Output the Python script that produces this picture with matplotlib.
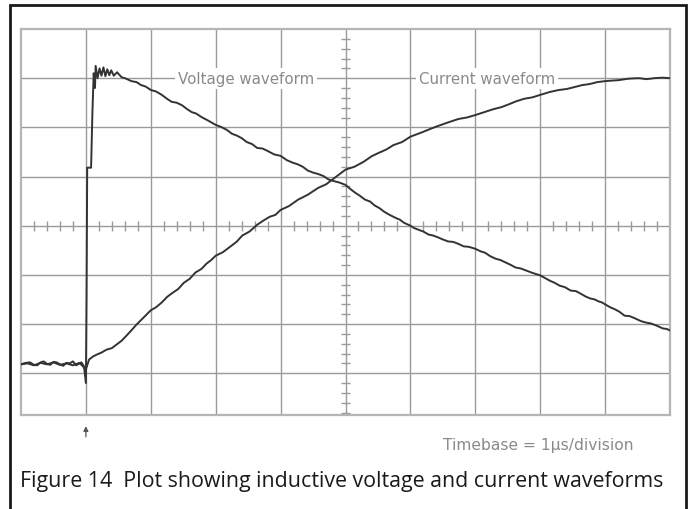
import numpy as np
import matplotlib
matplotlib.use("Agg")
import matplotlib.pyplot as plt
from matplotlib.patches import Rectangle

# 時間軸: 1 division = 1 us, トリガは t = 1
volt_t = [0.0, 0.07, 0.14, 0.2, 0.25, 0.3, 0.35, 0.4, 0.45, 0.5, 0.55, 0.6, 0.65, 0.7,
          0.75, 0.8, 0.85, 0.9, 0.93, 0.97, 1.0, 1.01, 1.02, 1.08, 1.10, 1.12, 1.14,
          1.15, 1.18, 1.21, 1.24, 1.27, 1.30, 1.33, 1.36, 1.39, 1.43, 1.48, 1.55,
          1.62, 1.70, 1.78, 1.85, 1.92, 2.0, 2.08, 2.17, 2.25, 2.32, 2.40, 2.48,
          2.56, 2.63, 2.70, 2.78, 2.88, 3.0, 3.08, 3.17, 3.25, 3.33, 3.40, 3.48,
          3.56, 3.64, 3.72, 3.80, 3.90, 4.0, 4.10, 4.19, 4.26, 4.34, 4.42, 4.50,
          4.58, 4.66, 4.74, 4.81, 4.90, 5.0, 5.08, 5.15, 5.22, 5.3, 5.38, 5.45,
          5.52, 5.6, 5.68, 5.77, 5.84, 5.9, 5.95, 6.0, 6.06, 6.12, 6.2, 6.28, 6.35,
          6.43, 6.5, 6.58, 6.66, 6.74, 6.82, 6.9, 6.95, 7.0, 7.08, 7.15, 7.23,
          7.31, 7.39, 7.47, 7.55, 7.62, 7.70, 7.78, 7.88, 8.0, 8.08, 8.15, 8.22,
          8.3, 8.38, 8.47, 8.55, 8.62, 8.70, 8.77, 8.84, 8.9, 8.95, 9.0, 9.08,
          9.15, 9.22, 9.3, 9.38, 9.47, 9.55, 9.63, 9.71, 9.79, 9.84, 9.89, 9.95, 10.0]
volt_v = [-2.82, -2.79, -2.78, -2.83, -2.84, -2.78, -2.76, -2.81, -2.83, -2.77,
          -2.78, -2.82, -2.85, -2.79, -2.80, -2.76, -2.84, -2.80, -2.78, -2.86,
          -3.20, -1.46, 1.18, 1.18, 2.29, 3.10, 2.80, 3.25, 3.00, 3.20, 3.05, 3.22,
          3.04, 3.18, 3.06, 3.16, 3.05, 3.12, 3.02, 2.99, 2.94, 2.92, 2.86, 2.83,
          2.76, 2.73, 2.66, 2.58, 2.52, 2.50, 2.45, 2.37, 2.31, 2.28, 2.21, 2.14,
          2.05, 2.01, 1.95, 1.87, 1.83, 1.78, 1.70, 1.66, 1.58, 1.57, 1.52, 1.45,
          1.42, 1.33, 1.28, 1.25, 1.20, 1.12, 1.08, 1.05, 1.01, 0.94, 0.91, 0.88,
          0.83, 0.74, 0.67, 0.61, 0.53, 0.49, 0.41, 0.36, 0.28, 0.22, 0.16, 0.12,
          0.06, 0.03, 0.00, -0.05, -0.08, -0.12, -0.18, -0.20, -0.24, -0.28, -0.32,
          -0.33, -0.37, -0.42, -0.43, -0.45, -0.47, -0.52, -0.55, -0.62, -0.67,
          -0.70, -0.75, -0.80, -0.85, -0.87, -0.91, -0.96, -1.01, -1.07, -1.12,
          -1.16, -1.22, -1.25, -1.32, -1.33, -1.38, -1.44, -1.48, -1.50, -1.54,
          -1.56, -1.60, -1.66, -1.70, -1.75, -1.83, -1.84, -1.89, -1.94, -1.97,
          -1.99, -2.03, -2.06, -2.09, -2.10, -2.13]

curr_t = [0.0, 0.1, 0.2, 0.3, 0.4, 0.5, 0.6, 0.7, 0.8, 0.9, 1.0, 1.05, 1.11, 1.17,
          1.24, 1.32, 1.40, 1.48, 1.55, 1.63, 1.70, 1.78, 1.88, 2.0, 2.08, 2.17,
          2.25, 2.32, 2.42, 2.51, 2.60, 2.69, 2.78, 2.86, 2.93, 3.0, 3.11, 3.22,
          3.32, 3.41, 3.52, 3.64, 3.73, 3.83, 3.92, 4.0, 4.13, 4.27, 4.42, 4.58,
          4.70, 4.81, 4.90, 5.0, 5.14, 5.28, 5.40, 5.51, 5.63, 5.74, 5.87, 6.0,
          6.1, 6.2, 6.31, 6.43, 6.58, 6.74, 6.87, 7.0, 7.14, 7.28, 7.40, 7.52,
          7.63, 7.75, 7.88, 8.0, 8.15, 8.29, 8.41, 8.53, 8.65, 8.76, 8.88, 9.0,
          9.1, 9.21, 9.36, 9.52, 9.64, 9.76, 9.88, 10.0]
curr_v = [-2.82, -2.80, -2.84, -2.79, -2.82, -2.78, -2.83, -2.80, -2.84, -2.79,
          -2.92, -2.72, -2.66, -2.62, -2.58, -2.52, -2.49, -2.41, -2.34, -2.23,
          -2.13, -2.01, -1.88, -1.72, -1.66, -1.56, -1.45, -1.38, -1.29, -1.16,
          -1.08, -0.95, -0.88, -0.77, -0.70, -0.61, -0.54, -0.43, -0.33, -0.20,
          -0.12, 0.02, 0.10, 0.18, 0.22, 0.32, 0.40, 0.53, 0.63, 0.77, 0.84, 0.95,
          1.04, 1.14, 1.20, 1.30, 1.41, 1.48, 1.55, 1.64, 1.70, 1.81, 1.86, 1.91,
          1.97, 2.03, 2.10, 2.17, 2.20, 2.25, 2.31, 2.37, 2.41, 2.47, 2.53, 2.58,
          2.61, 2.66, 2.72, 2.76, 2.78, 2.82, 2.86, 2.88, 2.92, 2.94, 2.95, 2.96,
          2.99, 3.00, 2.98, 3.00, 3.01, 3.00]

GRID_C = "#9a9a9a"
TRACE_C = "#333333"
LABEL_C = "#8a8a8a"

fig = plt.figure(figsize=(6.99, 5.10), dpi=100)

# 外枠
fig.patches.append(Rectangle((10 / 699, -0.05), 676 / 699, 1.05 - 6 / 510,
                             transform=fig.transFigure, fill=False,
                             edgecolor="#1a1a1a", linewidth=2.0))

ax = fig.add_axes([21 / 699, 1 - 416 / 510, 649 / 699, 386 / 510])
ax.set_xlim(0, 10)
ax.set_ylim(-3.85, 4)

# グリッド
for x in range(1, 10):
    ax.axvline(x, color=GRID_C, lw=1.0, zorder=1)
for y in range(-3, 4):
    ax.axhline(y, color=GRID_C, lw=1.0, zorder=1)

# 中央軸の目盛り
minor_x = [v for v in np.arange(0.2, 10, 0.2) if abs(v - round(v)) > 1e-6]
ax.vlines(minor_x, -0.1, 0.1, color=GRID_C, lw=1.0, zorder=1)
minor_y = [v for v in np.arange(-3.8, 4, 0.2) if abs(v - round(v)) > 1e-6]
ax.hlines(minor_y, 4.93, 5.07, color=GRID_C, lw=1.0, zorder=1)

for s in ax.spines.values():
    s.set_color("#b5b5b5")
    s.set_linewidth(1.6)
ax.set_xticks([])
ax.set_yticks([])

ax.plot(volt_t, volt_v, color=TRACE_C, lw=1.4, zorder=3)
ax.plot(curr_t, curr_v, color=TRACE_C, lw=1.4, zorder=3)

bbox = dict(facecolor="white", edgecolor="none", pad=2.0)
ax.text(3.47, 3.0, "Voltage waveform", color=LABEL_C, fontsize=10.8,
        ha="center", va="center", bbox=bbox, zorder=2)
ax.text(7.18, 3.0, "Current waveform", color=LABEL_C, fontsize=10.8,
        ha="center", va="center", bbox=bbox, zorder=2)

fig.text(538 / 699, 1 - 446 / 510, "Timebase = 1\u00b5s/division", color=LABEL_C,
         fontsize=11.2, ha="center", va="center")
# トリガ矢印
ax.annotate("", xy=(1.0, -4.02), xytext=(1.0, -4.35), xycoords="data",
            annotation_clip=False,
            arrowprops=dict(arrowstyle="-|>", color="#555555", lw=0.9,
                            mutation_scale=7))

fig.text(20 / 699, 1 - 482 / 510,
         "Figure 14  Plot showing inductive voltage and current waveforms",
         fontsize=15.4, family="Open Sans", color="#1a1a1a",
         ha="left", va="center")

fig.savefig("out.png", dpi=100)
